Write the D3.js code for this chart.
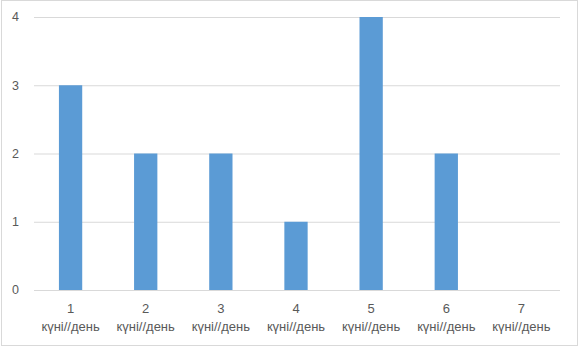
<!DOCTYPE html>
<html>
<head>
<meta charset="utf-8">
<script src="https://cdn.jsdelivr.net/npm/d3@7"></script>
<style>
  body { margin: 0; background: #fff; }
  svg { display: block; font-family: "Liberation Sans", Arial, sans-serif; }
</style>
</head>
<body>
<svg width="583" height="347"></svg>
<script>
const categories = ["1", "2", "3", "4", "5", "6", "7"];
const unitLabel = "күні//день";
const values = [3, 2, 2, 1, 4, 2, 0];
const yTicks = [0, 1, 2, 3, 4];

const svg = d3.select("svg");

// outer chart border
svg.append("rect")
  .attr("x", 1.5).attr("y", 0.5)
  .attr("width", 576).attr("height", 345)
  .attr("fill", "#fff")
  .attr("stroke", "#d9d9d9");

const xScale = d3.scaleBand()
  .domain(categories)
  .range([34, 560])
  .paddingInner(0.69)
  .paddingOuter(0.345);

const yScale = d3.scaleLinear().domain([0, 4]).range([290, 17]);

// gridlines
svg.append("g")
  .selectAll("line")
  .data(yTicks)
  .enter()
  .append("line")
  .attr("x1", 34)
  .attr("x2", 560)
  .attr("y1", (d) => yScale(d) + 0.5)
  .attr("y2", (d) => yScale(d) + 0.5)
  .attr("stroke", "#d9d9d9")
  .attr("stroke-width", 1);

// y labels
svg.append("g")
  .selectAll("text")
  .data(yTicks)
  .enter()
  .append("text")
  .attr("x", 19)
  .attr("y", (d) => yScale(d))
  .attr("dy", "0.35em")
  .attr("text-anchor", "end")
  .attr("font-size", 12.5)
  .attr("fill", "#595959")
  .text((d) => d);

// bars
svg.append("g")
  .selectAll("rect")
  .data(values)
  .enter()
  .append("rect")
  .attr("x", (d, i) => xScale(categories[i]) - 1)
  .attr("width", xScale.bandwidth())
  .attr("y", (d) => yScale(d))
  .attr("height", (d) => yScale(0) - yScale(d))
  .attr("fill", "#5b9bd5");

// x labels
const xl = svg.append("g")
  .selectAll("text")
  .data(categories)
  .enter()
  .append("text")
  .attr("text-anchor", "middle")
  .attr("font-size", 13)
  .attr("fill", "#595959");

xl.append("tspan")
  .attr("x", (d) => xScale(d) + xScale.bandwidth() / 2 - 1)
  .attr("y", 313)
  .text((d) => d);

xl.append("tspan")
  .attr("x", (d) => xScale(d) + xScale.bandwidth() / 2 - 1)
  .attr("y", 331)
  .text(unitLabel);
</script>
</body>
</html>
